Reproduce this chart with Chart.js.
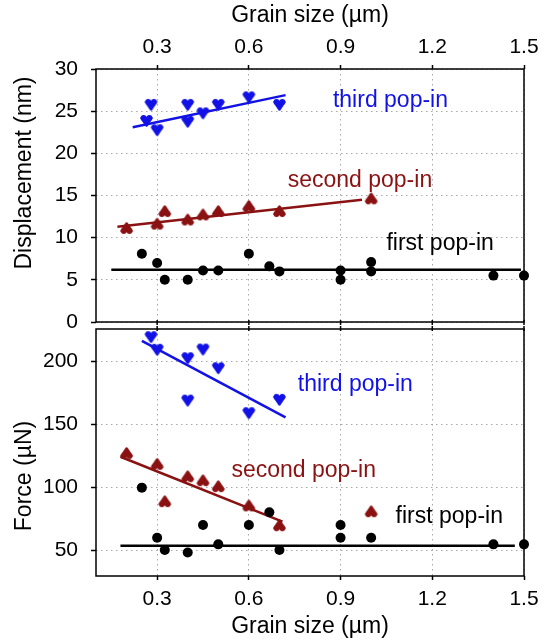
<!DOCTYPE html>
<html>
<head>
<meta charset="utf-8">
<script src="https://cdn.jsdelivr.net/npm/chart.js@4.4.1/dist/chart.umd.min.js"></script>
<style>
  html, body { margin: 0; padding: 0; background: #fff; }
  #wrap { position: relative; width: 551px; height: 640px; }
  #wrap canvas { position: absolute; left: 0; top: 0; }
</style>
</head>
<body>
<div id="wrap">
  <canvas id="dispChart" width="551" height="640"></canvas>
  <canvas id="forceChart" width="551" height="640"></canvas>
</div>
<script>
// tick labels
const xTicks = [0.3, 0.6, 0.9, 1.2, 1.5];
const dispTicks = [0, 5, 10, 15, 20, 25, 30];
const forceTicks = [50, 100, 150, 200];

// displacement panel (nm)
const dispFirstX = [0.25, 0.30, 0.325, 0.40, 0.45, 0.50, 0.60, 0.667, 0.70, 0.90, 0.90, 1.00, 1.00, 1.40, 1.50];
const dispFirstY = [8.1, 7.0, 5.0, 5.0, 6.1, 6.1, 8.1, 6.6, 6.0, 6.1, 5.0, 7.1, 6.0, 5.5, 5.5];
const dispSecondX = [0.20, 0.30, 0.325, 0.40, 0.45, 0.50, 0.60, 0.70, 1.00];
const dispSecondY = [11.1, 11.6, 13.1, 12.1, 12.7, 13.1, 13.7, 13.1, 14.6];
const dispThirdX = [0.28, 0.265, 0.30, 0.40, 0.40, 0.45, 0.50, 0.60, 0.70];
const dispThirdY = [25.8, 23.9, 22.8, 25.8, 23.8, 24.8, 25.8, 26.7, 25.8];
const dispFirstFitX = [0.15, 1.49], dispFirstFitY = [6.2, 6.2];
const dispSecondFitX = [0.17, 0.97], dispSecondFitY = [11.3, 14.5];
const dispThirdFitX = [0.22, 0.72], dispThirdFitY = [23.1, 26.9];

// force panel (uN)
const forceFirstX = [0.25, 0.30, 0.325, 0.40, 0.45, 0.50, 0.60, 0.667, 0.70, 0.90, 0.90, 1.00, 1.40, 1.50];
const forceFirstY = [99.5, 59.8, 50, 48, 69.8, 54.5, 69.8, 80, 50, 69.8, 59.8, 59.8, 54.5, 54.5];
const forceSecondX = [0.20, 0.30, 0.325, 0.40, 0.45, 0.50, 0.60, 0.70, 1.00];
const forceSecondY = [126.7, 118, 88.4, 108.2, 105, 100.3, 85, 69.3, 80.4];
const forceThirdX = [0.28, 0.30, 0.40, 0.45, 0.50, 0.40, 0.60, 0.70];
const forceThirdY = [219.3, 209.3, 202.6, 209.5, 194.7, 169, 159, 169.6];
const forceFirstFitX = [0.18, 1.47], forceFirstFitY = [53.4, 53.4];
const forceSecondFitX = [0.18, 0.71], forceSecondFitY = [124, 72.5];
const forceThirdFitX = [0.25, 0.72], forceThirdFitY = [216, 155.3];

const FONT = "'Liberation Sans', Arial, sans-serif";
const BLUE = '#1212e6';
const RED = '#8a1212';
const BLACK = '#000';

function pts(xs, ys) { return xs.map((x, i) => ({ x: x, y: ys[i] })); }

// rounded "heart" triangle marker: two lobes on the flat side, tip on the other
function marker(color, up) {
  const c = document.createElement('canvas');
  c.width = 15; c.height = 15;
  const g = c.getContext('2d');
  g.fillStyle = color; g.strokeStyle = color;
  g.lineWidth = 2.5; g.lineJoin = 'round';
  const base = up ? 10 : 5, tip = up ? 2.5 : 12.5;
  g.beginPath();
  g.moveTo(2.5, base); g.lineTo(12.5, base); g.lineTo(7.5, tip);
  g.closePath(); g.fill(); g.stroke();
  g.beginPath(); g.arc(4.6, base, 2.9, 0, Math.PI * 2); g.fill();
  g.beginPath(); g.arc(10.4, base, 2.9, 0, Math.PI * 2); g.fill();
  return c;
}

function scatterSet(xs, ys, color, style) {
  return {
    data: pts(xs, ys), showLine: false, order: 0, clip: 10,
    pointStyle: style, pointRadius: 5, pointHoverRadius: 5,
    backgroundColor: color, borderColor: color, borderWidth: 0
  };
}
function fitSet(xs, ys, color) {
  return {
    data: pts(xs, ys), showLine: true, order: 1,
    pointRadius: 0, borderColor: color, borderWidth: 2.5
  };
}

// frame + minor ticks on the inner edge, rotated y title, text labels
const panelPlugin = {
  id: 'panel',
  afterDraw(chart, args, opts) {
    const ctx = chart.ctx;
    const a = chart.chartArea;
    const xs = chart.scales.x, ys = chart.scales.y;
    ctx.save();
    ctx.strokeStyle = '#000';
    ctx.lineWidth = 1.5;
    ctx.strokeRect(a.left, a.top, a.right - a.left, a.bottom - a.top);
    ctx.beginPath();
    xTicks.forEach(v => {
      const px = xs.getPixelForValue(v);
      if (opts.innerTicks === 'bottom') { ctx.moveTo(px, a.bottom - 2); ctx.lineTo(px, a.bottom + 3); }
      else { ctx.moveTo(px, a.top - 3); ctx.lineTo(px, a.top + 2); }
    });
    ctx.stroke();

    ctx.fillStyle = '#000';
    ctx.font = '23px ' + FONT;
    ctx.textAlign = 'center';
    ctx.textBaseline = 'middle';
    ctx.translate(opts.titleX, opts.titleY);
    ctx.rotate(-Math.PI / 2);
    ctx.fillText(opts.title, 0, 0);
    ctx.restore();

    ctx.save();
    ctx.font = '23px ' + FONT;
    ctx.textAlign = 'left';
    ctx.textBaseline = 'middle';
    opts.labels.forEach(l => {
      ctx.fillStyle = l.color;
      ctx.fillText(l.text, xs.getPixelForValue(l.x), ys.getPixelForValue(l.y));
    });
    ctx.restore();
  }
};

function xScale(position, height, tickPad, titlePad) {
  return {
    type: 'linear', position: position, min: 0.1, max: 1.5,
    afterBuildTicks: s => { s.ticks = xTicks.map(v => ({ value: v })); },
    afterFit: s => { s.height = height; s.paddingLeft = 0; s.paddingRight = 0; },
    ticks: { font: { size: 21, family: FONT }, color: '#000', padding: tickPad,
      maxRotation: 0, callback: v => v.toFixed(1) },
    grid: { color: '#a8a8a8', lineWidth: 1, tickLength: 4, tickColor: '#000', tickWidth: 1.5 },
    border: { display: false, dash: [1.5, 3.5] },
    title: { display: true, text: 'Grain size (µm)', color: '#000',
      font: { size: 23, family: FONT }, padding: titlePad }
  };
}
function yScale(min, max, ticks) {
  return {
    type: 'linear', min: min, max: max,
    afterBuildTicks: s => { s.ticks = ticks.map(v => ({ value: v })); },
    afterFit: s => { s.width = 96; s.paddingTop = 0; s.paddingBottom = 0; },
    ticks: { font: { size: 21, family: FONT }, color: '#000', padding: 13 },
    grid: { color: '#a8a8a8', lineWidth: 1, tickLength: 5, tickColor: '#000', tickWidth: 1.5 },
    border: { display: false, dash: [1.5, 3.5] }
  };
}

const common = {
  responsive: false,
  animation: false,
  events: [],
  plugins: { legend: { display: false }, tooltip: { enabled: false } }
};

new Chart(document.getElementById('dispChart'), {
  type: 'scatter',
  data: {
    datasets: [
      scatterSet(dispThirdX, dispThirdY, BLUE, marker(BLUE, false)),
      scatterSet(dispSecondX, dispSecondY, RED, marker(RED, true)),
      scatterSet(dispFirstX, dispFirstY, BLACK, 'circle'),
      fitSet(dispThirdFitX, dispThirdFitY, BLUE),
      fitSet(dispSecondFitX, dispSecondFitY, RED),
      fitSet(dispFirstFitX, dispFirstFitY, BLACK)
    ]
  },
  options: Object.assign({}, common, {
    layout: { padding: { left: 0, right: 27, top: 0, bottom: 318 } },
    scales: {
      x: xScale('top', 69, 5, { top: 2, bottom: 0 }),
      y: yScale(0, 30, dispTicks)
    },
    plugins: Object.assign({}, common.plugins, {
      panel: {
        innerTicks: 'bottom', title: 'Displacement (nm)', titleX: 25, titleY: 173,
        labels: [
          { text: 'third pop-in', x: 0.875, y: 26.3, color: BLUE },
          { text: 'second pop-in', x: 0.727, y: 16.8, color: RED },
          { text: 'first pop-in', x: 1.05, y: 9.3, color: BLACK }
        ]
      }
    })
  }),
  plugins: [panelPlugin]
});

new Chart(document.getElementById('forceChart'), {
  type: 'scatter',
  data: {
    datasets: [
      scatterSet(forceThirdX, forceThirdY, BLUE, marker(BLUE, false)),
      scatterSet(forceSecondX, forceSecondY, RED, marker(RED, true)),
      scatterSet(forceFirstX, forceFirstY, BLACK, 'circle'),
      fitSet(forceThirdFitX, forceThirdFitY, BLUE),
      fitSet(forceSecondFitX, forceSecondFitY, RED),
      fitSet(forceFirstFitX, forceFirstFitY, BLACK)
    ]
  },
  options: Object.assign({}, common, {
    layout: { padding: { left: 0, right: 27, top: 329, bottom: 0 } },
    scales: {
      x: xScale('bottom', 64, 7, { top: 0, bottom: 0 }),
      y: yScale(29.4, 225.4, forceTicks)
    },
    plugins: Object.assign({}, common.plugins, {
      panel: {
        innerTicks: 'top', title: 'Force (µN)', titleX: 25, titleY: 476,
        labels: [
          { text: 'third pop-in', x: 0.76, y: 181.6, color: BLUE },
          { text: 'second pop-in', x: 0.543, y: 113, color: RED },
          { text: 'first pop-in', x: 1.08, y: 76.3, color: BLACK }
        ]
      }
    })
  }),
  plugins: [panelPlugin]
});
</script>
</body>
</html>
